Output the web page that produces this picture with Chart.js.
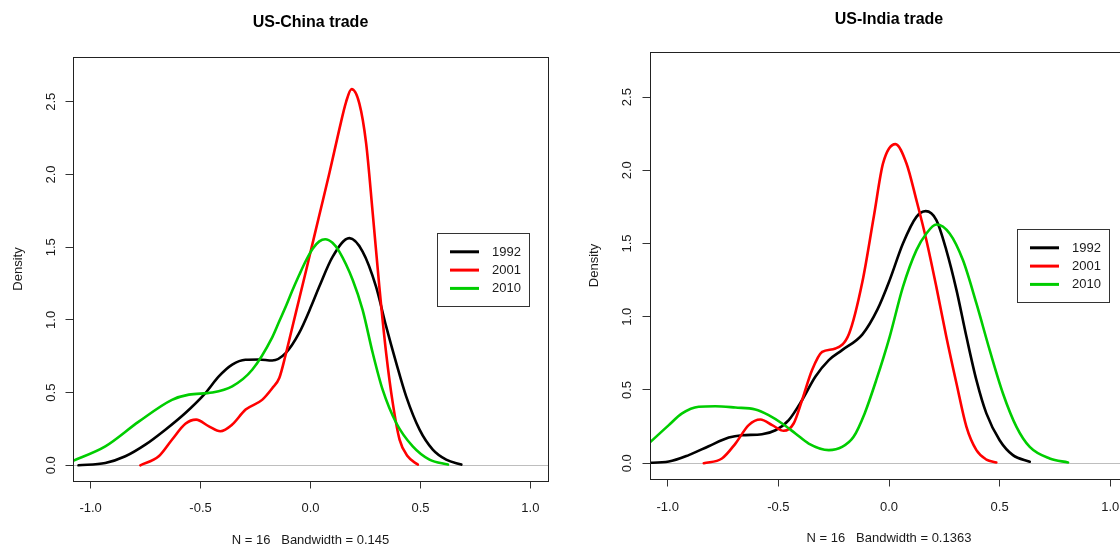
<!DOCTYPE html>
<html>
<head>
<meta charset="utf-8">
<script src="https://cdn.jsdelivr.net/npm/chart.js@4.4.1/dist/chart.umd.min.js"></script>
<style>
  html, body { margin: 0; padding: 0; background: #fff; }
  body { width: 1120px; height: 548px; overflow: hidden; position: relative; }
  .panel { position: absolute; top: 0; }
</style>
</head>
<body>
<div class="panel" style="left:0"><canvas id="china" width="560" height="548"></canvas></div>
<div class="panel" style="left:560px"><canvas id="india" width="580" height="548"></canvas></div>
<script>
const years = ["1992", "2001", "2010"];
const lineColors = ["#000000", "#ff0000", "#00cd00"];
const xTicks = [-1.0, -0.5, 0.0, 0.5, 1.0];
const yTicks = [0.0, 0.5, 1.0, 1.5, 2.0, 2.5];

// density curves, as [x, density]
const china1992 = [[-1.055,0.0],[-0.933,0.016],[-0.842,0.062],[-0.751,0.142],[-0.66,0.245],[-0.569,0.36],[-0.478,0.497],[-0.417,0.611],[-0.356,0.692],[-0.296,0.726],[-0.235,0.728],[-0.174,0.721],[-0.113,0.772],[-0.052,0.909],[0.005,1.1],[0.04,1.229],[0.101,1.435],[0.177,1.562],[0.237,1.47],[0.298,1.229],[0.344,0.955],[0.39,0.703],[0.435,0.474],[0.496,0.245],[0.556,0.108],[0.617,0.039],[0.686,0.005]];
const china2001 = [[-0.774,0.0],[-0.69,0.062],[-0.63,0.176],[-0.569,0.286],[-0.52,0.314],[-0.462,0.268],[-0.41,0.234],[-0.356,0.28],[-0.295,0.383],[-0.22,0.45],[-0.174,0.53],[-0.142,0.6],[-0.113,0.76],[-0.081,0.96],[-0.052,1.14],[-0.02,1.34],[0.01,1.53],[0.04,1.72],[0.086,2.01],[0.131,2.31],[0.162,2.5],[0.187,2.587],[0.222,2.489],[0.253,2.214],[0.283,1.733],[0.313,1.229],[0.344,0.772],[0.374,0.429],[0.405,0.177],[0.442,0.062],[0.488,0.005]];
const china2010 = [[-1.086,0.027],[-0.933,0.13],[-0.781,0.3],[-0.63,0.45],[-0.553,0.486],[-0.447,0.5],[-0.356,0.543],[-0.265,0.657],[-0.174,0.88],[-0.142,0.99],[-0.11,1.1],[-0.083,1.2],[-0.051,1.31],[-0.02,1.41],[0.01,1.49],[0.04,1.54],[0.067,1.555],[0.1,1.53],[0.131,1.47],[0.192,1.275],[0.237,1.069],[0.283,0.772],[0.328,0.52],[0.39,0.291],[0.465,0.13],[0.541,0.039],[0.625,0.005]];

const india1992 = [[-1.1,0.002],[-0.995,0.011],[-0.905,0.055],[-0.815,0.116],[-0.724,0.175],[-0.664,0.191],[-0.574,0.198],[-0.513,0.225],[-0.453,0.294],[-0.393,0.43],[-0.333,0.59],[-0.272,0.704],[-0.212,0.772],[-0.12,0.88],[-0.052,1.05],[0.003,1.25],[0.063,1.5],[0.124,1.682],[0.166,1.721],[0.214,1.66],[0.259,1.455],[0.305,1.182],[0.35,0.863],[0.395,0.567],[0.44,0.34],[0.5,0.157],[0.56,0.055],[0.636,0.01]];
const india2001 = [[-0.837,0.0],[-0.755,0.032],[-0.694,0.134],[-0.634,0.26],[-0.581,0.298],[-0.528,0.26],[-0.476,0.221],[-0.431,0.271],[-0.393,0.43],[-0.348,0.635],[-0.302,0.76],[-0.242,0.783],[-0.18,0.886],[-0.12,1.24],[-0.068,1.69],[-0.027,2.047],[0.029,2.179],[0.079,2.047],[0.124,1.796],[0.169,1.523],[0.214,1.204],[0.259,0.863],[0.305,0.544],[0.35,0.248],[0.395,0.089],[0.44,0.025],[0.485,0.005]];
const india2010 = [[-1.12,0.087],[-1.086,0.134],[-0.995,0.26],[-0.935,0.34],[-0.86,0.385],[-0.785,0.389],[-0.694,0.38],[-0.604,0.367],[-0.544,0.328],[-0.483,0.271],[-0.423,0.203],[-0.363,0.134],[-0.272,0.089],[-0.212,0.111],[-0.16,0.18],[-0.11,0.34],[-0.057,0.57],[0.003,0.863],[0.063,1.204],[0.124,1.455],[0.169,1.569],[0.214,1.63],[0.274,1.569],[0.334,1.387],[0.395,1.091],[0.455,0.772],[0.515,0.476],[0.576,0.248],[0.636,0.111],[0.726,0.032],[0.809,0.005]];

Chart.defaults.font.family = "'Liberation Sans', Arial, sans-serif";
Chart.defaults.font.size = 13;
Chart.defaults.color = "#1a1a1a";

// box round the plot region plus the R-style key on the right
const frameAndKey = {
  id: "frameAndKey",
  afterDatasetsDraw(chart) {
    const { ctx, chartArea: a } = chart;
    ctx.save();
    ctx.strokeStyle = "#222";
    ctx.lineWidth = 1;
    const l = Math.round(a.left) + 0.5, t = Math.round(a.top) + 0.5;
    ctx.strokeRect(l, t, Math.round(a.right) - Math.round(a.left), Math.round(a.bottom) - Math.round(a.top));

    const w = 92, h = 73;
    const kx = Math.round(a.right - 19 - w) + 0.5;
    const ky = Math.round((a.top + a.bottom) / 2 - h / 2) + 0.5;
    ctx.fillStyle = "#fff";
    ctx.fillRect(kx, ky, w, h);
    ctx.strokeStyle = "#333";
    ctx.strokeRect(kx, ky, w, h);
    ctx.font = "13px 'Liberation Sans', Arial, sans-serif";
    ctx.textBaseline = "middle";
    ctx.textAlign = "left";
    chart.data.datasets.forEach((ds, i) => {
      const y = ky + 18.3 * (i + 1);
      ctx.strokeStyle = ds.borderColor;
      ctx.lineWidth = 3;
      ctx.beginPath();
      ctx.moveTo(kx + 12.5, y);
      ctx.lineTo(kx + 41.5, y);
      ctx.stroke();
      ctx.fillStyle = "#1a1a1a";
      ctx.fillText(ds.label, kx + 54.5, y + 0.5);
    });
    ctx.restore();
  }
};

function makeChart(id, title, subtitle, curves, box) {
  const ctx = document.getElementById(id).getContext("2d");
  return new Chart(ctx, {
    type: "line",
    data: {
      datasets: curves.map((pts, i) => ({
        label: years[i],
        data: pts.map(p => ({ x: p[0], y: p[1] })),
        borderColor: lineColors[i],
        borderWidth: 2.6,
        borderCapStyle: "round",
        borderJoinStyle: "round",
        pointRadius: 0,
        fill: false,
        cubicInterpolationMode: "monotone",
        order: curves.length - i,
        clip: 0
      }))
    },
    options: {
      responsive: false,
      animation: false,
      layout: { padding: { left: 0, right: box.padRight, top: 0, bottom: 0 } },
      plugins: {
        legend: { display: false },
        tooltip: { enabled: false },
        title: {
          display: true,
          text: title,
          fullSize: false,
          color: "#000",
          font: { size: 16, weight: "bold" },
          padding: { top: box.titleTop, bottom: box.titleBottom }
        }
      },
      scales: {
        x: {
          type: "linear",
          min: -1.08,
          max: 1.08,
          afterBuildTicks: s => { s.ticks = xTicks.map(v => ({ value: v })); },
          afterFit: s => { s.height = box.xHeight; },
          grid: { drawOnChartArea: false, tickLength: 7.5, color: "#333", tickColor: "#333" },
          border: { display: false },
          ticks: { padding: box.xPad, maxRotation: 0, autoSkip: false, callback: v => Number(v).toFixed(1) },
          title: { display: true, text: subtitle, padding: { top: 0, bottom: box.subBottom } }
        },
        y: {
          type: "linear",
          min: -0.108,
          max: 2.808,
          afterBuildTicks: s => { s.ticks = yTicks.map(v => ({ value: v })); },
          afterFit: s => { s.width = box.yWidth; },
          grid: {
            tickLength: 7.5,
            tickColor: "#333",
            color: c => (c.tick && c.tick.value === 0 ? "#bebebe" : "rgba(0,0,0,0)")
          },
          border: { display: false },
          ticks: { padding: box.yPad, minRotation: 90, maxRotation: 90, crossAlign: "center", autoSkip: false, callback: v => Number(v).toFixed(1) },
          title: { display: true, text: "Density", padding: { top: box.densityPad, bottom: 0 } }
        }
      }
    },
    plugins: [frameAndKey]
  });
}

makeChart("china", "US-China trade", "N = 16   Bandwidth = 0.145", [china1992, china2001, china2010],
  { padRight: 12, titleTop: 13.4, titleBottom: 24.4, xHeight: 67, xPad: 12, subBottom: 0.2, yWidth: 73, yPad: 5.5, densityPad: 10.8 });
makeChart("india", "US-India trade", "N = 16   Bandwidth = 0.1363", [india1992, india2001, india2010],
  { padRight: 12, titleTop: 10, titleBottom: 22.8, xHeight: 69, xPad: 13, subBottom: 1.9, yWidth: 90, yPad: 6.2, densityPad: 26.8 });
</script>
</body>
</html>
